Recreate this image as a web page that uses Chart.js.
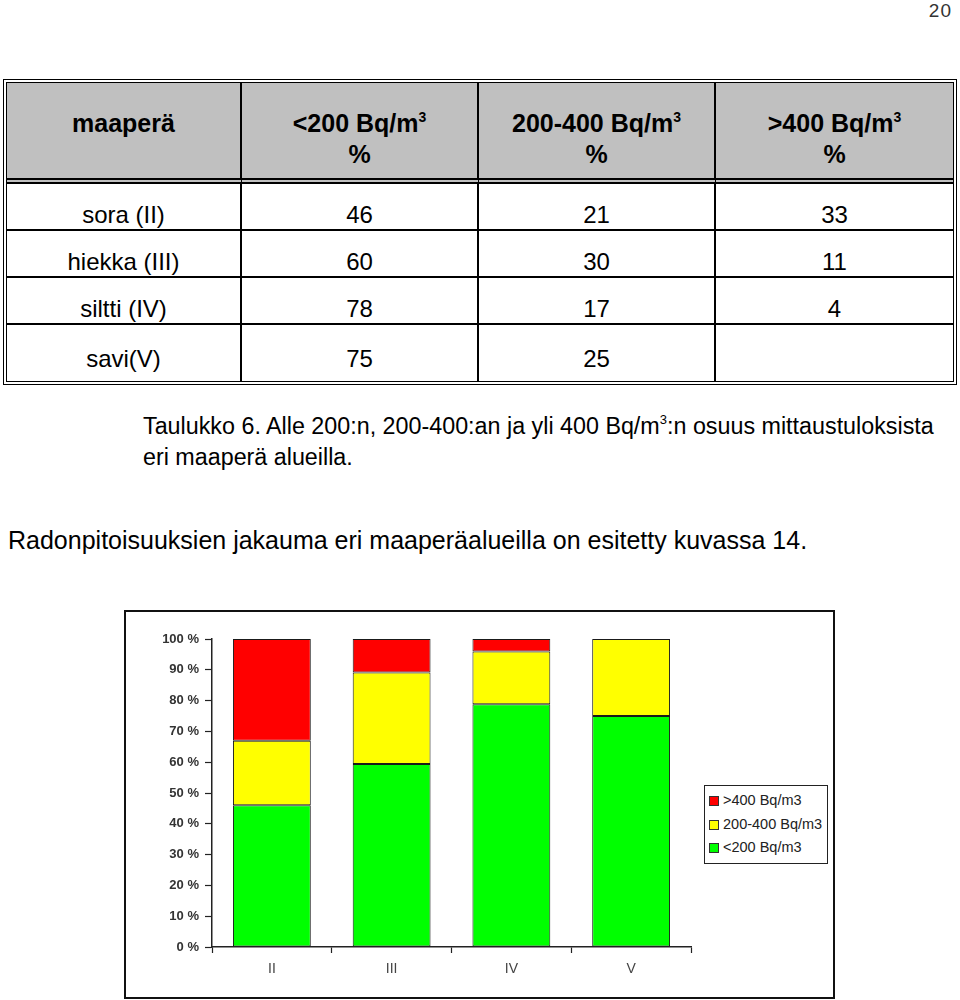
<!DOCTYPE html>
<html lang="fi">
<head>
<meta charset="utf-8">
<title>Radonpitoisuudet maaperäalueittain</title>
<script src="https://cdn.jsdelivr.net/npm/chart.js@4.4.1/dist/chart.umd.min.js"></script>
<style>
    body { margin: 0; width: 960px; height: 1000px; position: relative; background: #fff;
           font-family: "Liberation Sans", Arial, sans-serif; color: #000; }
    .pagenum { position: absolute; right: 8px; top: 0px; font-size: 19px; color: #333; letter-spacing: 1px; }
    table.data { position: absolute; left: 3px; top: 79px; width: 954px; border: 4px double #000;
                 border-collapse: separate; border-spacing: 0; font-size: 24px; }
    table.data th, table.data td { border-right: 2px solid #000; border-bottom: 2px solid #000;
                 text-align: center; padding: 0; box-sizing: content-box; }
    table.data tr > *:last-child { border-right: none; }
    table.data tr:last-child td { border-bottom: none; }
    table.data th { background: #c0c0c0; height: 70px; padding-top: 25px; font-size: 25px; font-weight: bold;
                    line-height: 31px; vertical-align: top; border-bottom: 6px double #000; }
    table.data td { height: 45px; vertical-align: bottom; line-height: 28px; }
    table.data tr.last td { height: 48px; padding-bottom: 8px; }
    sup { font-size: 14px; vertical-align: 10px; line-height: 0; }
    .caption { position: absolute; left: 143px; top: 411px; font-size: 23.3px; line-height: 31px; }
    .caption sup { font-size: 13px; }
    .para { position: absolute; left: 8px; top: 526px; font-size: 25px; }
    .chartbox { position: absolute; left: 124px; top: 610px; width: 707px; height: 385px;
                border: 2px solid #111; }
    .chartbox canvas { position: absolute; left: 0; top: 0; }
    #legend { position: absolute; left: 578px; top: 173px; border: 1.5px solid #222; padding: 3px 5px 3px 4px;
              font-family: "Liberation Sans", Arial, sans-serif; font-size: 14.5px; color: #222; background: #fff; }
    #legend div { height: 23.5px; line-height: 23.5px; white-space: nowrap; }
    #legend span.box { display: inline-block; width: 8px; height: 8px; border: 1px solid #333;
                       margin-right: 4px; vertical-align: -1px; }
</style>
</head>
<body>
<div class="pagenum">20</div>

<table class="data">
    <colgroup><col style="width:235px"><col style="width:237px"><col style="width:237px"><col></colgroup>
    <thead id="thead"></thead>
    <tbody id="tbody"></tbody>
</table>

<div class="caption">Taulukko 6. Alle 200:n, 200-400:an ja yli 400 Bq/m<sup>3</sup>:n osuus mittaustuloksista<br>eri maaperä alueilla.</div>

<div class="para">Radonpitoisuuksien jakauma eri maaperäalueilla on esitetty kuvassa 14.</div>

<div class="chartbox">
    <canvas id="radonChart" width="707" height="385"></canvas>
    <div id="legend"></div>
</div>

<script>
// Table data (Taulukko 6)
const soilNames = ['sora (II)', 'hiekka (III)', 'siltti (IV)', 'savi(V)'];
const soilClasses = ['II', 'III', 'IV', 'V'];
const under200 = [46, 60, 78, 75];
const from200to400 = [21, 30, 17, 25];
const over400 = [33, 11, 4, null];

const seriesLabels = ['<200 Bq/m3', '200-400 Bq/m3', '>400 Bq/m3'];
const seriesColors = ['#00ff00', '#ffff00', '#ff0000'];
const yTicks = [0, 10, 20, 30, 40, 50, 60, 70, 80, 90, 100];

// Build the table
document.getElementById('thead').innerHTML = `
    <tr>
        <th>maaperä</th>
        <th>&lt;200 Bq/m<sup>3</sup><br>%</th>
        <th>200-400 Bq/m<sup>3</sup><br>%</th>
        <th>&gt;400 Bq/m<sup>3</sup><br>%</th>
    </tr>`;
const tbody = document.getElementById('tbody');
soilNames.forEach((name, i) => {
    const row = document.createElement('tr');
    if (i === soilNames.length - 1) row.className = 'last';
    row.innerHTML = `
        <td>${name}</td>
        <td>${under200[i]}</td>
        <td>${from200to400[i]}</td>
        <td>${over400[i] === null ? '' : over400[i]}</td>`;
    tbody.appendChild(row);
});

// 100 % stacked chart: each column scaled to its own total
const raw = [under200, from200to400, over400];
const totals = soilClasses.map((c, i) => raw.reduce((s, arr) => s + (arr[i] || 0), 0));
const datasets = raw.map((arr, k) => ({
    label: seriesLabels[k],
    data: arr.map((v, i) => (v || 0) / totals[i] * 100),
    backgroundColor: seriesColors[k],
    borderColor: '#1a1a1a',
    borderWidth: 1,
    borderSkipped: false,
    barPercentage: 0.65,
    categoryPercentage: 1.0
}));

const tickFont = { family: '"Liberation Sans", Arial, sans-serif', size: 13, weight: 'bold' };

const chart = new Chart(document.getElementById('radonChart').getContext('2d'), {
    type: 'bar',
    data: { labels: soilClasses, datasets: datasets },
    options: {
        responsive: false,
        animation: false,
        layout: { padding: { top: 27, right: 142, bottom: 0, left: 0 } },
        plugins: { legend: { display: false }, tooltip: { enabled: false } },
        scales: {
            x: {
                stacked: true,
                afterFit: scale => { scale.height = 50; },
                grid: { drawOnChartArea: false, offset: true, color: '#222', tickLength: 6, tickWidth: 1.2 },
                border: { color: '#222', width: 1.5 },
                ticks: { color: '#444', font: { family: tickFont.family, size: 14 }, padding: 8 }
            },
            y: {
                stacked: true,
                min: 0,
                max: 100,
                afterFit: scale => { scale.width = 86; },
                afterBuildTicks: scale => { scale.ticks = yTicks.map(v => ({ value: v })); },
                grid: { drawOnChartArea: false, color: '#222', tickLength: 7, tickWidth: 1.2 },
                border: { color: '#222', width: 1.5 },
                ticks: { color: '#333', font: tickFont, padding: 6, callback: v => v + ' %' }
            }
        }
    }
});

// Legend, top entry = top of the stack
const legend = document.getElementById('legend');
chart.data.datasets.slice().reverse().forEach(ds => {
    const item = document.createElement('div');
    item.innerHTML = `<span class="box" style="background:${ds.backgroundColor}"></span>${ds.label.replace('<', '&lt;').replace('>', '&gt;')}`;
    legend.appendChild(item);
});
</script>
</body>
</html>
